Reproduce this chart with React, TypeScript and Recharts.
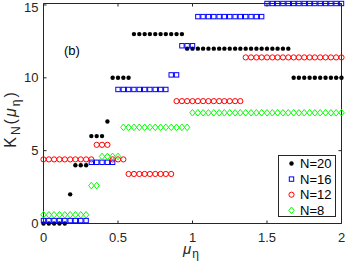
import { ScatterChart, Scatter, XAxis, YAxis, ReferenceArea } from "recharts";

// mu_eta sampling grid (0..2)
const MU = [
  0, 0.036, 0.071, 0.107, 0.143, 0.179, 0.214, 0.25, 0.286, 0.321, 0.357, 0.393,
  0.429, 0.464, 0.5, 0.536, 0.571, 0.607, 0.643, 0.679, 0.714, 0.75, 0.786, 0.821,
  0.857, 0.893, 0.929, 0.964, 1, 1.036, 1.071, 1.107, 1.143, 1.179, 1.214, 1.25,
  1.286, 1.321, 1.357, 1.393, 1.429, 1.464, 1.5, 1.536, 1.571, 1.607, 1.643, 1.679,
  1.714, 1.75, 1.786, 1.821, 1.857, 1.893, 1.929, 1.964, 2,
];

// K_N values as plotted (each series shifted a little so they don't overlap)
const K_N20 = [
  0, 0, 0, 0, 0, 2, 4, 4, 4, 6, 6, 6, 7, 10, 10, 10, 10, 13, 13, 13, 13, 13, 13, 13,
  13, 13, 13, 12, 12, 12, 12, 12, 12, 12, 12, 12, 12, 12, 12, 12, 12, 12, 12, 12, 12,
  12, 12, 10, 10, 10, 10, 10, 10, 10, 10, 10, 10,
];
const K_N16 = [
  0.2, 0.2, 0.2, 0.2, 0.2, 0.2, 0.2, 0.2, 0.2, 4.2, 4.2, 4.2, 4.2, 4.2, 9.2, 9.2, 9.2,
  9.2, 9.2, 9.2, 9.2, 9.2, 9.2, 9.2, 10.2, 10.2, 12.2, 12.2, 12.2, 14.2, 14.2, 14.2,
  14.2, 14.2, 14.2, 14.2, 14.2, 14.2, 14.2, 14.2, 14.2, 14.2, 15.1, 15.1, 15.1, 15.1,
  15.1, 15.1, 15.1, 15.1, 15.1, 15.1, 15.1, 15.1, 15.1, 15.1, 15.1,
];
const K_N12 = [
  4.4, 4.4, 4.4, 4.4, 4.4, 4.4, 4.4, 4.4, 4.4, 4.4, 5.4, 5.4, 5.4, 4.4, 4.4, 4.4, 3.4,
  3.4, 3.4, 3.4, 3.4, 3.4, 3.4, 3.4, 3.4, 8.4, 8.4, 8.4, 8.4, 8.4, 8.4, 8.4, 8.4, 8.4,
  8.4, 8.4, 8.4, 8.4, 11.4, 11.4, 11.4, 11.4, 11.4, 11.4, 11.4, 11.4, 11.4, 11.4, 11.4,
  11.4, 11.4, 11.4, 11.4, 11.4, 11.4, 11.4, 11.4,
];
const K_N8 = [
  0.6, 0.6, 0.6, 0.6, 0.6, 0.6, 0.6, 0.6, 0.6, 2.6, 2.6, 4.6, 4.6, 4.6, 4.6, 6.6, 6.6,
  6.6, 6.6, 6.6, 6.6, 6.6, 6.6, 6.6, 6.6, 6.6, 6.6, 6.6, 7.6, 7.6, 7.6, 7.6, 7.6, 7.6,
  7.6, 7.6, 7.6, 7.6, 7.6, 7.6, 7.6, 7.6, 7.6, 7.6, 7.6, 7.6, 7.6, 7.6, 7.6, 7.6, 7.6,
  7.6, 7.6, 7.6, 7.6, 7.6, 7.6,
];

const X_TICKS = [0, 0.5, 1, 1.5, 2];
const Y_TICKS = [0, 5, 10, 15];

const FONT = "'Liberation Sans', Arial, Helvetica, sans-serif";
const AXIS = "#262626";
const W = 345;
const H = 269;
const PLOT = { left: 43.5, right: 341.5, top: 3.5, bottom: 223.5 };

const toPoints = (vals: number[]) => MU.map((mu, i) => ({ mu, k: vals[i] }));

const dotShape = (color: string) => (p: any) => (
  <circle cx={p.cx} cy={p.cy} r={2.2} fill={color} />
);
const squareShape = (color: string) => (p: any) => (
  <rect x={p.cx - 2.2} y={p.cy - 2.2} width={4.4} height={4.4} fill="none" stroke={color} strokeWidth={1} />
);
const circleShape = (color: string) => (p: any) => (
  <circle cx={p.cx} cy={p.cy} r={2.6} fill="none" stroke={color} strokeWidth={1} />
);
const diamondShape = (color: string) => (p: any) => (
  <path
    d={`M${p.cx},${p.cy - 3.3}L${p.cx + 2.7},${p.cy}L${p.cx},${p.cy + 3.3}L${p.cx - 2.7},${p.cy}Z`}
    fill="none"
    stroke={color}
    strokeWidth={1}
  />
);

const SERIES = [
  { name: "N=20", values: K_N20, color: "#000000", shape: dotShape },
  { name: "N=16", values: K_N16, color: "#0000ff", shape: squareShape },
  { name: "N=12", values: K_N12, color: "#ff0000", shape: circleShape },
  { name: "N=8", values: K_N8, color: "#00ff00", shape: diamondShape },
];

function XTick(props: any) {
  const { x, payload } = props;
  return (
    <g>
      <line x1={x} x2={x} y1={PLOT.bottom} y2={PLOT.bottom - 3} stroke={AXIS} />
      <line x1={x} x2={x} y1={PLOT.top} y2={PLOT.top + 3} stroke={AXIS} />
      <text x={x} y={241.5} textAnchor="middle" fontFamily={FONT} fontSize={13} fill={AXIS}>
        {payload.value}
      </text>
    </g>
  );
}

function YTick(props: any) {
  const { y, payload } = props;
  // the top label sits a bit lower so it stays inside the figure
  const ty = Math.max(y, 7.2);
  return (
    <g>
      <line x1={PLOT.left} x2={PLOT.left + 3} y1={y} y2={y} stroke={AXIS} />
      <line x1={PLOT.right} x2={PLOT.right - 3} y1={y} y2={y} stroke={AXIS} />
      <text x={38.5} y={ty + 4.5} textAnchor="end" fontFamily={FONT} fontSize={13} fill={AXIS}>
        {payload.value}
      </text>
    </g>
  );
}

function LegendBox() {
  return (
    <div style={{ position: "absolute", left: 277.5, top: 155, width: 58, height: 62 }}>
      <svg width={58} height={62} style={{ display: "block" }}>
        <rect x={0.5} y={0.5} width={57} height={61} fill="#fff" stroke={AXIS} />
        {SERIES.map((s, i) => {
          const cy = 8.5 + i * 15.6;
          return (
            <g key={s.name}>
              {s.shape(s.color)({ cx: 13.5, cy })}
              <text x={22} y={cy + 4.5} fontFamily={FONT} fontSize={13} fill="#000">
                {s.name}
              </text>
            </g>
          );
        })}
      </svg>
    </div>
  );
}

export default function App() {
  return (
    <div style={{ position: "absolute", left: 0, top: 0, width: W, height: H, background: "#fff" }}>
      <ScatterChart
        width={W}
        height={H}
        margin={{ top: PLOT.top, right: W - PLOT.right, bottom: 0, left: 0 }}
      >
        <XAxis
          type="number"
          dataKey="mu"
          domain={[0, 2]}
          ticks={X_TICKS}
          height={H - PLOT.bottom}
          axisLine={false}
          tickLine={false}
          tick={<XTick />}
          interval={0}
        />
        <YAxis
          type="number"
          dataKey="k"
          domain={[0, 15.1]}
          ticks={Y_TICKS}
          width={PLOT.left}
          axisLine={false}
          tickLine={false}
          tick={<YTick />}
          interval={0}
        />
        <ReferenceArea x1={0} x2={2} y1={0} y2={15.1} fill="none" stroke={AXIS} strokeWidth={1} ifOverflow="visible" />
        {SERIES.map((s) => (
          <Scatter
            key={s.name}
            name={s.name}
            data={toPoints(s.values)}
            shape={s.shape(s.color)}
            isAnimationActive={false}
          />
        ))}
      </ScatterChart>
      <svg width={W} height={H} style={{ position: "absolute", left: 0, top: 0, pointerEvents: "none" }}>
        <text x={64} y={54.5} fontFamily={FONT} fontSize={13} fill="#000">
          (b)
        </text>
        <text
          x={16}
          y={119}
          transform="rotate(-90 16 119)"
          textAnchor="middle"
          fontFamily={FONT}
          fontSize={16}
          letterSpacing={2}
          fill={AXIS}
        >
          K<tspan dy={4} fontSize={12}>N</tspan>
          <tspan dy={-4}>(</tspan>
          <tspan fontStyle="italic">μ</tspan>
          <tspan dy={4} fontSize={12}>η</tspan>
          <tspan dy={-4}>)</tspan>
        </text>
        <text x={183} y={254} fontFamily={FONT} fontSize={15} fill={AXIS}>
          <tspan fontStyle="italic">μ</tspan>
          <tspan dy={4} dx={1} fontSize={12}>η</tspan>
        </text>
      </svg>
      <LegendBox />
    </div>
  );
}
